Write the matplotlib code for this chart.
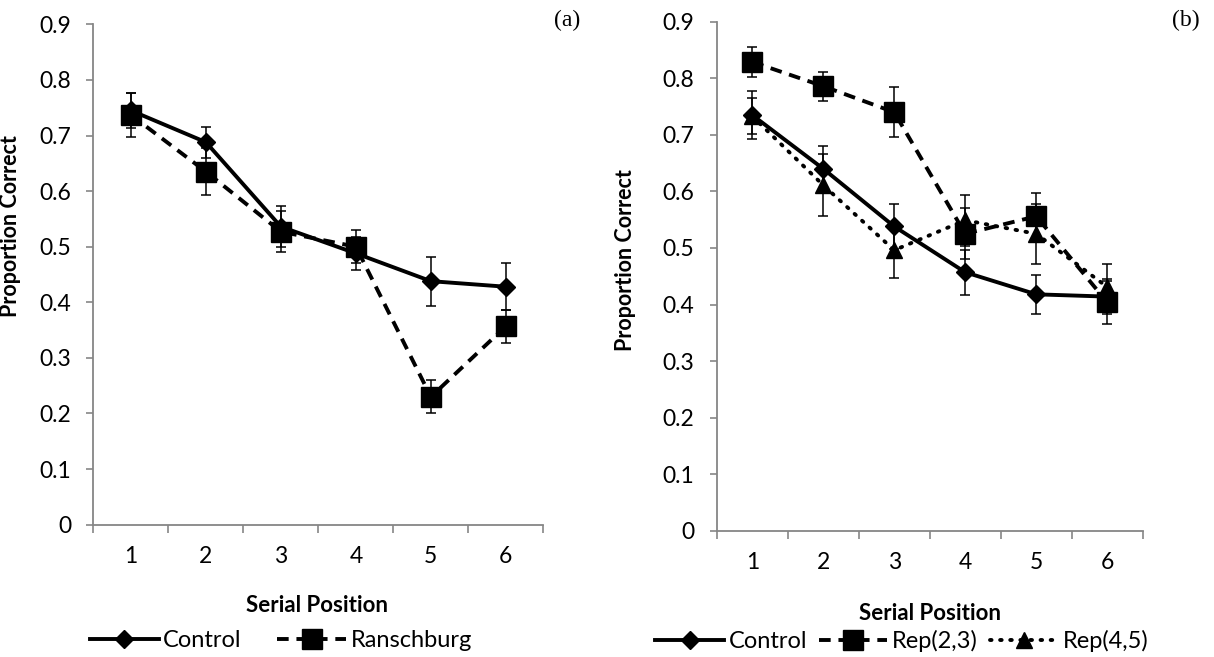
import numpy as np
import matplotlib
matplotlib.use("Agg")
import matplotlib.pyplot as plt
from matplotlib.lines import Line2D

plt.rcParams['font.family'] = ['Lato', 'DejaVu Sans']

# serial positions
positions = [1, 2, 3, 4, 5, 6]
y_ticks = [0, 0.1, 0.2, 0.3, 0.4, 0.5, 0.6, 0.7, 0.8, 0.9]
y_tick_labels = ['0', '0.1', '0.2', '0.3', '0.4', '0.5', '0.6', '0.7', '0.8', '0.9']

# panel (a)
a_control = [0.745, 0.688, 0.536, 0.488, 0.438, 0.428]
a_control_err = [0.031, 0.028, 0.037, 0.030, 0.044, 0.042]
a_ransch = [0.737, 0.635, 0.527, 0.500, 0.230, 0.357]
a_ransch_err = [0.040, 0.042, 0.037, 0.030, 0.030, 0.030]

# panel (b)
b_control = [0.735, 0.640, 0.538, 0.457, 0.418, 0.414]
b_control_err = [0.043, 0.040, 0.040, 0.040, 0.035, 0.031]
b_rep23 = [0.829, 0.786, 0.740, 0.525, 0.556, 0.404]
b_rep23_err = [0.027, 0.026, 0.044, 0.045, 0.042, 0.038]
b_rep45 = [0.733, 0.611, 0.496, 0.549, 0.525, 0.431]
b_rep45_err = [0.032, 0.055, 0.050, 0.045, 0.053, 0.041]

GRAY = '#868686'
STYLES = {
    'Control': dict(marker='D', ms=9.5, ls='-'),
    'Ranschburg': dict(marker='s', ms=14, ls=(0, (3, 2))),
    'Rep(2,3)': dict(marker='s', ms=14, ls=(0, (3, 2))),
    'Rep(4,5)': dict(marker='^', ms=12, ls=(0, (0.4, 2.2))),
}


def series(ax, y, err, label):
    st = STYLES[label]
    line = ax.errorbar(positions, y, yerr=err, color='black', lw=2.8,
                       ls=st['ls'], marker=st['marker'], ms=st['ms'], mec='black', mfc='black',
                       ecolor='black', elinewidth=1.1, capsize=3.9, capthick=1.1, zorder=3)
    h = Line2D([], [], color='black', lw=2.8, ls=st['ls'], marker=st['marker'],
               ms=st['ms'], mec='black', mfc='black', label=label)
    if label == 'Rep(4,5)':
        line[0].set_dash_capstyle('round')
        h.set_dash_capstyle('round')
    return h


def style_axes(ax):
    ax.set_xlim(0.5, 6.5)
    ax.set_ylim(0, 0.9)
    ax.set_yticks(y_ticks)
    ax.set_yticklabels(y_tick_labels)
    ax.set_xticks(np.arange(0.5, 7, 1))
    ax.set_xticklabels([])
    ax.set_xticks(positions, minor=True)
    ax.set_xticklabels([str(p) for p in positions], minor=True)
    ax.tick_params(axis='x', which='minor', length=0, pad=15, labelsize=16.5)
    ax.tick_params(axis='x', which='major', length=5.8, width=1.2, color=GRAY, direction='out')
    ax.tick_params(axis='y', length=5, width=1.2, color=GRAY, direction='out', labelsize=16.5, pad=11)
    for s in ['top', 'right']:
        ax.spines[s].set_visible(False)
    for s in ['left', 'bottom']:
        ax.spines[s].set_color(GRAY)
        ax.spines[s].set_linewidth(1.3)
    ax.set_ylabel('Proportion Correct', fontsize=15.5, fontweight='bold')
    ax.set_xlabel('Serial Position', fontsize=16, fontweight='bold')


fig = plt.figure(figsize=(12.14, 6.57), dpi=100)
ax1 = fig.add_axes([0.0769, 0.2014, 0.3707, 0.7616])
ax2 = fig.add_axes([0.5904, 0.1922, 0.3509, 0.7747])

# (a)
h1 = [series(ax1, a_control, a_control_err, 'Control'),
      series(ax1, a_ransch, a_ransch_err, 'Ranschburg')]
style_axes(ax1)
ax1.yaxis.set_label_coords(-0.160, 0.597)
ax1.xaxis.set_label_coords(0.497, -0.140)
ax1.legend(handles=h1, loc='center', bbox_to_anchor=(0.417, -0.232), ncol=2, frameon=False,
           fontsize=17, handlelength=2.9, columnspacing=1.5, handletextpad=0.2)

# (b)
h2 = [series(ax2, b_control, b_control_err, 'Control'),
      series(ax2, b_rep23, b_rep23_err, 'Rep(2,3)'),
      series(ax2, b_rep45, b_rep45_err, 'Rep(4,5)')]
style_axes(ax2)
ax2.yaxis.set_label_coords(-0.189, 0.532)
ax2.xaxis.set_label_coords(0.5, -0.142)
ax2.legend(handles=h2, loc='center', bbox_to_anchor=(0.435, -0.217), ncol=3, frameon=False,
           fontsize=17, handlelength=2.9, columnspacing=0.5, handletextpad=0.2)

fig.text(0.4675, 0.9696, '(a)', family='Liberation Serif', fontsize=17, ha='center', va='center')
fig.text(0.9765, 0.9696, '(b)', family='Liberation Serif', fontsize=17, ha='center', va='center')

fig.savefig('out.png', dpi=100)
